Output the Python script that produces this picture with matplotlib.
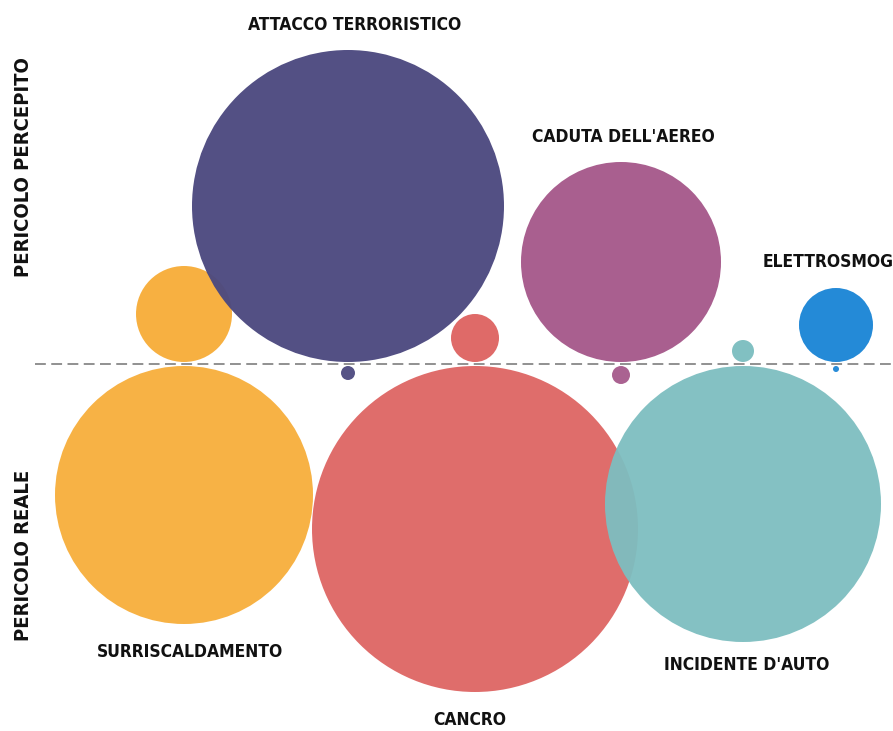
import matplotlib.pyplot as plt
from matplotlib.patches import Circle

# risk categories, positions along the line and bubble radii (px)
labels = ["SURRISCALDAMENTO", "ATTACCO TERRORISTICO", "CANCRO",
          "CADUTA DELL'AEREO", "INCIDENTE D'AUTO", "ELETTROSMOG"]
x_pos = [184, 348, 475, 621, 743, 836]
perceived = [48, 156, 24, 100, 11, 37]
real = [129, 7, 163, 9, 138, 3]
colors = ["#F7AE3B", "#4D4A80", "#DE6563", "#A65A8B", "#7DBEC0", "#1D86D6"]

# label placement
label_xy = [(190, 652), (355, 25), (470, 720), (623, 137), (747, 665), (828, 262)]

line_y = 364

fig = plt.figure(figsize=(8.93, 7.31), dpi=100)
ax = fig.add_axes([0, 0, 1, 1])
ax.set_xlim(0, 893)
ax.set_ylim(731, 0)
ax.set_aspect("equal")
ax.axis("off")

# real risk: bubbles hanging below the line
for x, r, c in zip(x_pos, real, colors):
    ax.add_patch(Circle((x, line_y + 2 + r), r, color=c, alpha=0.95, lw=0, zorder=2))

# perceived risk: bubbles sitting on the line
for x, r, c in zip(x_pos, perceived, colors):
    ax.add_patch(Circle((x, line_y - 2 - r), r, color=c, alpha=0.97, lw=0, zorder=3))

ax.plot([35, 893], [line_y, line_y], ls=(0, (6, 3)), color="#888888", lw=1.3, zorder=4)

font = dict(family="DejaVu Sans", weight="bold", stretch="condensed", color="#111111")
for (lx, ly), t in zip(label_xy, labels):
    ax.text(lx, ly, t, ha="center", va="center", fontsize=12.5, **font)

ax.text(24, 167, "PERICOLO PERCEPITO", rotation=90, ha="center", va="center", fontsize=14.5, **font)
ax.text(24, 555, "PERICOLO REALE", rotation=90, ha="center", va="center", fontsize=14.5, **font)

fig.savefig("out.png", dpi=100, facecolor="white")
